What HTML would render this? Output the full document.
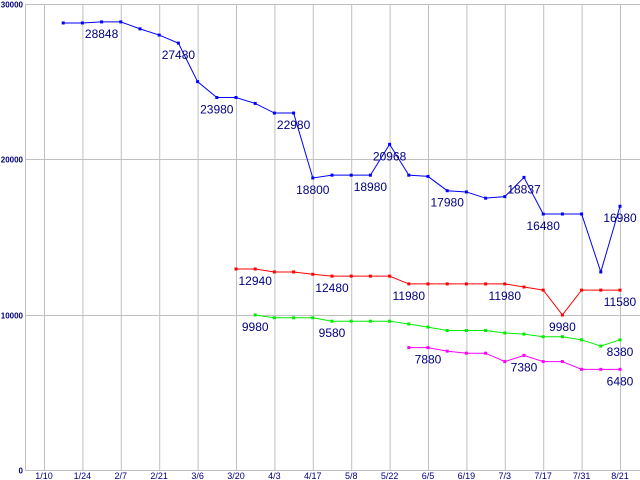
<!DOCTYPE html>
<html><head><meta charset="utf-8"><style>
html,body{margin:0;padding:0;background:#fff;}
svg{display:block;font-family:"Liberation Sans",sans-serif;}
</style></head><body>
<svg id="chart" width="640" height="480" viewBox="0 0 640 480"></svg>
<script>
const xTickLabels = ["1/10","1/24","2/7","2/21","3/6","3/20","4/3","4/17","5/8","5/22","6/5","6/19","7/3","7/17","7/31","8/21"];
const yTickValues = [0,10000,20000,30000];
const blueValues = [28780,28780,28848,28848,28400,28000,27480,25000,23980,23980,23600,22980,22980,18800,18980,18980,18980,20968,18980,18900,17980,17900,17500,17600,18837,16480,16480,16480,12750,16980];
const redValues = [null,null,null,null,null,null,null,null,null,12940,12940,12750,12750,12600,12480,12480,12480,12480,11980,11980,11980,11980,11980,11980,11780,11580,9980,11580,11580,11580];
const greenValues = [null,null,null,null,null,null,null,null,null,null,9980,9800,9800,9800,9580,9580,9580,9580,9400,9200,8980,8980,8980,8820,8750,8580,8580,8380,7980,8380];
const magentaValues = [null,null,null,null,null,null,null,null,null,null,null,null,null,null,null,null,null,null,7880,7880,7650,7520,7520,6980,7380,6980,6980,6480,6480,6480];
const blueLabels = [2,6,8,12,13,16,17,20,24,25,29];
const redLabels = [10,14,18,23,26,29];
const greenLabels = [10,14,29];
const magentaLabels = [19,24,29];

const NS="http://www.w3.org/2000/svg";
const svg=document.getElementById('chart');
function yS(v){return 470 - v*(466/30000);}
function xP(i){return 44 + 19.2*(i+1);}
function xG(k){return 44 + 38.4*k;}
function mk(tag,attrs,parent){const e=document.createElementNS(NS,tag);for(const k in attrs)e.setAttribute(k,attrs[k]);(parent||svg).appendChild(e);return e;}

const grid=mk('g',{});


xTickLabels.forEach((t,k)=>{
  const l=mk('line',{x1:xG(k)+0.5,x2:xG(k)+0.5,y1:4,y2:470,stroke:'#c0c0c0','stroke-width':1},grid);
  
  
  const tx=mk('text',{x:xG(k),y:479,'text-anchor':'middle','font-size':9,fill:'#000080'});
  
  
  tx.textContent=t;
});
yTickValues.forEach(v=>{
  const y=Math.round(yS(v))+0.5;
  const l=mk('line',{x1:25,x2:640,y1:y,y2:y,stroke:'#c0c0c0','stroke-width':1},grid);
  
  
  const tx=mk('text',{x:23,y:y+3,'text-anchor':'end','font-size':8,'font-weight':'bold',fill:'#000080'});
  
  
  tx.textContent=v;
});
const ax=mk('line',{x1:25.5,x2:25.5,y1:4,y2:470,stroke:'#c0c0c0'});



function series(vals,labels,color,name){
  const g=mk('g',{});
  
  
  let d='';
  vals.forEach((v,i)=>{if(v==null)return;d+=(d?'L':'M')+xP(i)+','+yS(v);});
  const p=mk('path',{d:d,fill:'none',stroke:color,'stroke-width':1},g);
  
  
  vals.forEach((v,i)=>{if(v==null)return;
    const r=mk('rect',{x:xP(i)-1.5,y:yS(v)-1.5,width:3,height:3,fill:color},g);
    
    
  });
  labels.forEach(i=>{
    const t=mk('text',{x:xP(i),y:yS(vals[i])+16,'text-anchor':'middle','font-size':12,fill:'#000080'},g);
    
    
    t.textContent=vals[i];
  });
}
series(blueValues,blueLabels,'#0000ff','blue-series');
series(redValues,redLabels,'#ff0000','red-series');
series(greenValues,greenLabels,'#00ee00','green-series');
series(magentaValues,magentaLabels,'#ff00ff','magenta-series');
</script>
</body></html>
